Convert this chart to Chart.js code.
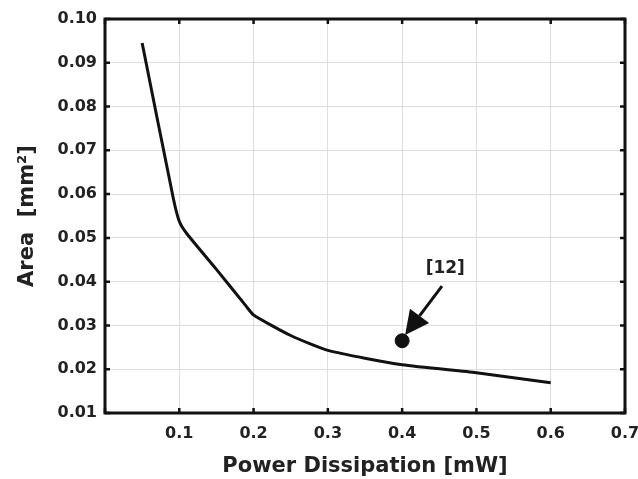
<!DOCTYPE html>
<html>
<head>
<meta charset="utf-8">
<script src="https://cdn.jsdelivr.net/npm/chart.js@4/dist/chart.umd.min.js"></script>
<style>
  html, body { margin: 0; padding: 0; background: #fff; }
  #wrap { width: 638px; height: 479px; }
</style>
</head>
<body>
<div id="wrap"><canvas id="chart" width="638" height="479"></canvas></div>
<script>
// Area vs power dissipation curve
const powerMw = [0.05, 0.092, 0.10, 0.11, 0.15, 0.19, 0.20, 0.25, 0.30, 0.40, 0.50, 0.60];
const areaMm2 = [0.0945, 0.059, 0.0538, 0.051, 0.0428, 0.0344, 0.0324, 0.0277, 0.0243, 0.021, 0.0192, 0.0169];

// Reference point [12] and its arrow
const refPoint = [0.40, 0.0265];
const refLabel = '[12]';
const refLabelPos = [0.458, 0.0431];
const arrowTail = [0.4536, 0.039];
const arrowTip = [0.404, 0.0278];

const FONT = "'DejaVu Sans', sans-serif";

// frame, inward ticks and the annotation arrow
const framePlugin = {
    id: 'frame',
    afterDatasetsDraw(chart) {
        const ctx = chart.ctx;
        const a = chart.chartArea;
        const xs = chart.scales.x, ys = chart.scales.y;
        ctx.save();
        ctx.strokeStyle = '#111';
        ctx.lineWidth = 2.5;
        const tl = 5;
        xs.ticks.forEach(t => {
            const px = xs.getPixelForValue(t.value);
            ctx.beginPath();
            ctx.moveTo(px, a.bottom); ctx.lineTo(px, a.bottom - tl);
            ctx.moveTo(px, a.top); ctx.lineTo(px, a.top + tl);
            ctx.stroke();
        });
        ys.ticks.forEach(t => {
            const py = ys.getPixelForValue(t.value);
            ctx.beginPath();
            ctx.moveTo(a.left, py); ctx.lineTo(a.left + tl, py);
            ctx.moveTo(a.right, py); ctx.lineTo(a.right - tl, py);
            ctx.stroke();
        });
        ctx.lineWidth = 3;
        ctx.strokeRect(a.left, a.top, a.right - a.left, a.bottom - a.top);

        // arrow
        const x0 = xs.getPixelForValue(arrowTail[0]), y0 = ys.getPixelForValue(arrowTail[1]);
        const x1 = xs.getPixelForValue(arrowTip[0]), y1 = ys.getPixelForValue(arrowTip[1]);
        const ang = Math.atan2(y1 - y0, x1 - x0);
        const hl = 24, hw = 12;
        const bx = x1 - hl * Math.cos(ang), by = y1 - hl * Math.sin(ang);
        ctx.lineWidth = 3;
        ctx.beginPath();
        ctx.moveTo(x0, y0); ctx.lineTo(bx, by);
        ctx.stroke();
        ctx.fillStyle = '#111';
        ctx.beginPath();
        ctx.moveTo(x1, y1);
        ctx.lineTo(bx + hw * Math.sin(ang), by - hw * Math.cos(ang));
        ctx.lineTo(bx - hw * Math.sin(ang), by + hw * Math.cos(ang));
        ctx.closePath();
        ctx.fill();

        ctx.font = 'bold 17px ' + FONT;
        ctx.textAlign = 'center';
        ctx.textBaseline = 'middle';
        ctx.fillStyle = '#222';
        ctx.fillText(refLabel, xs.getPixelForValue(refLabelPos[0]), ys.getPixelForValue(refLabelPos[1]));
        ctx.restore();
    }
};

const ctx = document.getElementById('chart').getContext('2d');
new Chart(ctx, {
    type: 'scatter',
    data: {
        datasets: [{
            data: powerMw.map((p, i) => ({ x: p, y: areaMm2[i] })),
            showLine: true,
            borderColor: '#111',
            borderWidth: 3,
            pointRadius: 0,
            tension: 0.2
        }, {
            data: [{ x: refPoint[0], y: refPoint[1] }],
            pointRadius: 7,
            pointBackgroundColor: '#111',
            pointBorderColor: '#111'
        }]
    },
    options: {
        responsive: false,
        animation: false,
        layout: { padding: { top: 19, right: 0, left: 0, bottom: 0 } },
        plugins: { legend: { display: false }, tooltip: { enabled: false } },
        scales: {
            x: {
                type: 'linear',
                min: 0, max: 0.7,
                afterFit: s => { s.height = 66; s.paddingRight = 13; s.paddingLeft = 0; },
                grid: { color: '#dedede', lineWidth: 1, drawTicks: false },
                border: { display: false },
                ticks: {
                    stepSize: 0.1,
                    padding: 11,
                    color: '#222',
                    font: { family: FONT, size: 16, weight: 'bold' },
                    callback: v => (Math.abs(v) < 1e-9 ? '' : v.toFixed(1))
                },
                title: {
                    display: true,
                    text: 'Power Dissipation [mW]',
                    color: '#222',
                    padding: { top: 0, bottom: 0 },
                    font: { family: FONT, size: 21, weight: 'bold' }
                }
            },
            y: {
                type: 'linear',
                min: 0.01, max: 0.10,
                afterFit: s => { s.width = 105; },
                grid: { color: '#dedede', lineWidth: 1, drawTicks: false },
                border: { display: false },
                ticks: {
                    stepSize: 0.01,
                    padding: 8,
                    color: '#222',
                    font: { family: FONT, size: 16, weight: 'bold' },
                    callback: v => v.toFixed(2)
                },
                title: {
                    display: true,
                    text: 'Area  [mm²]',
                    color: '#222',
                    padding: { top: 15, bottom: 0 },
                    font: { family: FONT, size: 21, weight: 'bold' }
                }
            }
        }
    },
    plugins: [framePlugin]
});
</script>
</body>
</html>
